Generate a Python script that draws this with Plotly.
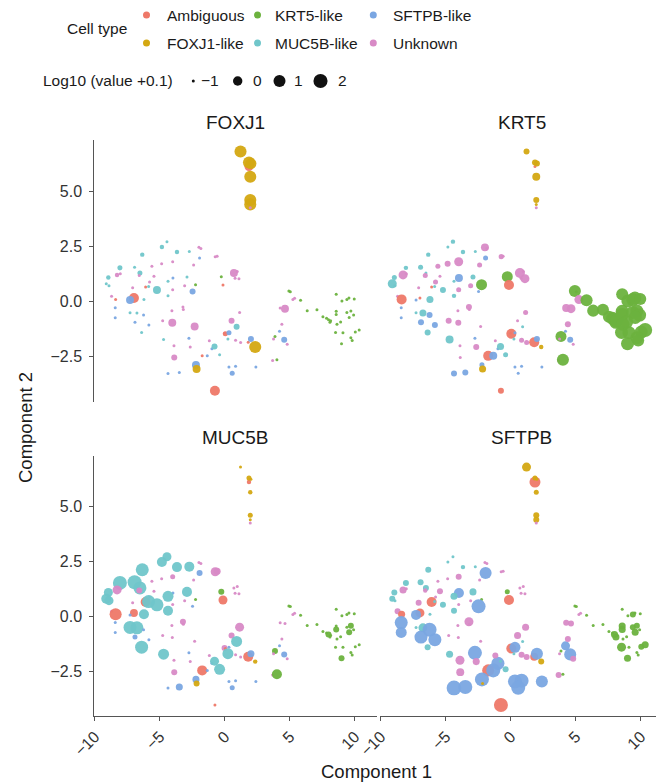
import numpy as np
import plotly.graph_objects as go

# ---------------- data ----------------
cell_type_names = ["Ambiguous", "FOXJ1-like", "KRT5-like", "MUC5B-like", "SFTPB-like", "Unknown"]
type_codes = {"A": "Ambiguous", "F": "FOXJ1-like", "K": "KRT5-like",
              "M": "MUC5B-like", "S": "SFTPB-like", "U": "Unknown"}
genes = ["FOXJ1", "KRT5", "MUC5B", "SFTPB"]

comp1 = [
    1.2, 1.85, 1.85, 2.0, 1.95, 1.95, 1.95, 1.95,
    -4.46, -4.85, -3.69, -2.74, -2.0, -1.85, -1.95, -0.75, -0.6,
    -6.36, -8.08, -6.95, -5.62, -4.87, -4.02, -2.41, -8.3, -8.05,
    -6.54, -6.59, -5.46, -4.0, -2.92, -8.97, -9.13, -8.92,
    -0.28, -0.15, -2.26, 0.69, 1.08, 0.95, 0.78, -5.8,
    -6.1, -5.87, -5.23, -4.38, -7.1, -4.02, -3.1, -2.49,
    -4.38, -7.0, -7.3, -8.72, -8.41, -6.23, -3.23, -3.2, -4.08,
    -8.44, -7.3, -6.77, -6.26, -8.44, -6.92, -6.41, -5.85,
    -4.79, -4.05, -2.33, -4.72, -2.77, -3.92, -2.67, -3.9,
    -1.0, -0.8, -1.2, -1.75, -1.36, -0.41, -4.38, -3.51,
    -2.23, -2.18, -0.77, 0.31, 0.82, 0.56, 2.38,
    0.51, 1.13, 0.9, -0.03, 0.03, 0.31, 0.23, 0.82, 1.21,
    1.79, 2.0, 2.33, 3.67, 4.0, 3.85, 3.74, 4.2, 4.56,
    4.79, 4.38, 4.62, 4.25, 4.92, 5.03, 5.23, 5.36,
    5.82, 6.33, 7.08, 7.54, 7.82, 7.97, 8.08, 8.13, 8.56, 9.0, 9.38, 9.54, 9.95, 8.56,
    8.56, 9.38, 9.69, 9.9, 9.56, 8.9, 8.62, 8.51, 9.08, 10.03, 10.33, 9.69, 9.79, 8.97,
]
comp2 = [
    6.8, 6.12, 6.3, 6.25, 5.65, 4.6, 4.4, 4.25,
    2.71, 2.47, 2.24, 2.26, 2.45, 2.4, 1.97, 2.03, 2.05,
    2.12, 1.52, 1.55, 1.59, 1.71, 1.80, 1.65, 1.2, 1.25,
    1.29, 1.17, 1.14, 1.06, 1.11, 1.08, 0.8, 0.71,
    1.12, 0.74, 0.76, 1.29, 1.03, 1.35, 1.05, 0.88,
    0.65, 0.67, 0.52, 0.91, 0.62, 0.53, 0.71, 0.45,
    0.25, 0.15, 0.06, 0.23, 0.09, 0.09, -0.25, -0.37, -0.42,
    -0.29, -0.51, -0.53, -0.62, -0.74, -0.95, -1.41, -1.07,
    -0.88, -0.97, -1.14, -1.73, -1.67, -2.01, -2.07, -2.55,
    -2.15, -2.05, -1.79, -2.47, -2.47, -2.42, -3.27, -3.23,
    -2.88, -3.07, -4.05, -2.98, -2.94, -3.26, -2.98,
    -0.88, -0.5, -1.15, -1.45, -1.47, -1.42, -1.71, -1.76, -1.86,
    -1.85, -1.71, -2.07, -2.68, -2.65, -1.59, -1.71, -1.35, -1.74,
    -1.94, -1.04, -0.33, -0.3, 0.47, 0.44, 0.08, 0.14,
    0.05, -0.42, -0.38, -0.7, -0.77, -0.83, -0.95, -0.88, 0.32, 0.02, 0.08, 0.15, 0.11, -0.45,
    -0.6, -0.5, -0.44, -0.62, -0.73, -0.94, -1.04, -1.41, -1.42, -1.39, -1.3, -1.65, -1.77, -1.92,
]
cell_type = list(
    "FAFFFFFU"
    "MMMMUUSUU"
    "MMMUUUUUU"
    "MUUSMMMM"
    "KAKUUUUU"
    "AMMMUUUS"
    "MASUAMUUU"
    "SMMSSSMS"
    "UUUMSUUU"
    "SMUASMSS"
    "SFASSSS"
    "UUMUASMUU"
    "ASFUKKUSS"
    "UUUUKKUU"
    "KKKKKKKKKKKKKK"
    "KKKKKKKKKKKKKK"
)

# log10(value + 0.1) per cell, one list per gene
foxj1 = [
    1.0, -0.12, 1.0, 0.56, 1.0, 1.0, 1.0, -1,
    -1, -0.95, -0.95, -1, -1, -1, -1, -1, -1,
    -0.95, -0.9, -1, -1, -1, -1, -1, -0.95, -1,
    -0.9, -1, -1, -1, -1, -0.95, -1, -1,
    -1, -1, -1, -0.4, -1, -1, -1, -1,
    -1, -1, -0.4, -1, -1, -1, -1, -0.78,
    -1, 0.2, -0.4, -1, -1, -1, -1, -1, -1,
    -1, -1, -1, -1, -1, -1, -1, -1,
    -1, -0.4, -0.4, -1, -1, -1, -1, -0.78,
    -1, -0.78, -1, -1, -1, -1, -1, -1,
    -0.4, -0.4, 0.2, -1, -1, -0.9, -1,
    -0.78, -1, -0.78, -1, -0.9, -0.9, -1, -1, -1,
    -1, -0.78, 1.0, -1, -1, -1, -1, -1, -0.78,
    -1, -1, -0.4, -1, -1, -1, -1, -1,
    -1, -1, -1, -1, -1, -1, -1, -1, -1, -1, -1, -1, -1, -1,
    -1, -1, -1, -1, -1, -1, -1, -1, -1, -1, -1, -1, -1, -1,
]
krt5 = [
    -0.78, -1, -0.78, -0.78, -0.4, -0.78, -1, -1,
    -0.95, -1, -0.95, -1, -0.4, -1, -0.9, -0.9, -1,
    -0.95, -0.95, -0.9, -0.9, -0.78, -0.12, -0.9, -0.12, -1,
    -1, -0.9, -1, -0.4, -0.9, -0.9, -0.12, -1,
    0.56, 0.2, 0.56, 0.2, -0.12, -1, -1, -0.9,
    -1, -1, -0.78, -1, -1, -0.9, -0.9, -1,
    -0.95, -1, -1, -1, 0.2, -0.6, -0.78, -1, -1,
    -1, -1, -0.6, -0.78, -1, -0.78, -0.78, -0.78,
    -0.78, -0.78, -1, -0.4, -1, -1, -0.78, -1,
    -1, -0.6, -1, 0.2, -0.4, -0.9, -0.78, -0.78,
    -0.9, -0.6, -0.78, -1, -1, -1, -1,
    -1, -0.9, -1, -1, 0.2, -1, -1, -0.9, -0.9,
    0.2, -0.78, -0.95, -1, 1.0, 0.56, -1, -1, -0.78,
    -1, -0.78, -0.12, -0.4, 1.0, -1, -0.12, -1,
    1.0, 1.0, 1.0, 1.0, 1.45, 1.45, 1.45, 1.45, 1.0, 1.45, 1.45, 1.45, 1.0, 1.45,
    1.45, 1.45, 1.45, 1.45, 1.45, 1.45, 1.45, 1.45, 1.45, 1.45, 1.95, 1.45, 1.0, 1.45,
]
muc5b = [
    -1, -0.95, -0.9, -1, -0.95, -0.9, -1, -1,
    -0.12, 0.2, 0.2, 0.2, -1, -1, -0.78, -0.12, -0.6,
    1.45, 1.95, 1.95, -1, -1, -0.9, -1, -0.12, -1,
    1.45, -0.78, -1, -1, 0.2, -0.12, 0.2, -0.12,
    -0.78, -0.12, -1, -1, -1, -1, -1, -1,
    0.2, 1.45, 1.45, 0.56, -1, -1, -1, -1,
    0.2, -0.4, -1, -1, 1.0, 0.2, -0.78, -1, -1,
    -1, 1.45, 1.45, -1, -1, -0.9, 1.45, -1,
    -1, -1, -1, 0.56, -1, -1, -1, -0.78,
    -1, -0.12, -1, 0.2, -1, 0.56, -1, -0.6,
    -0.6, -0.78, -1, -1, -1, -0.9, -1,
    -0.78, -0.12, 0.56, -0.78, -1, -1, 0.56, -1, -1,
    0.2, -0.6, -0.95, -1, 0.2, -0.78, -1, -1, -0.78,
    -1, -1, -1, -1, -1, -1, -1, -1,
    -1, -1, -1, -1, -1, -0.78, -1, -1, -1, -1, -1, -1, -1, -1,
    -0.78, -1, -0.78, -1, -0.78, -1, -1, -1, -1, -1, -1, -1, -1, -0.78,
]
sftpb = [
    -0.12, 0.56, -0.9, -1, -0.9, -0.78, -0.78, -1,
    -1, -1, -0.95, -1, -1, -1, 1.0, -1, -1,
    -0.78, -0.78, -0.78, -1, -1, -0.78, -1, -0.6, -1,
    -0.78, -0.95, -0.78, 0.2, -0.6, -0.78, -0.78, -1,
    -0.9, 0.2, -1, -1, -1, -1, -1, -1,
    0.2, -1, -0.78, -0.6, -0.78, -1, -1, 1.95,
    -0.78, -0.12, 0.2, -0.78, -0.6, -1, -0.12, -1, -1,
    1.45, -1, -0.12, 1.95, 0.56, 1.45, -0.78, 1.45,
    -1, -1, -1, -0.6, 1.95, -0.12, -0.6, -0.4,
    1.45, -1, -0.78, 1.0, 1.95, -0.78, 2.4, 1.95,
    1.95, -1, 1.95, 1.95, 1.95, 1.95, 1.0,
    -0.6, -0.6, -1, -1, 0.2, 0.56, -1, -0.78, -0.78,
    -0.4, 1.0, -0.78, -0.78, -1, -1, -1, -0.12, 1.0,
    -0.78, -0.78, -0.78, -0.78, -1, -1, -1, -1,
    -1, -1, -1, -1, -1, -0.6, -0.6, -1, -1, -1, -0.78, -1, -1, -0.6,
    -0.6, -0.78, -0.78, -1, -0.6, -1, -1, -0.12, -1, -0.78, -0.6, -1, -1, -0.6,
]
expression = {"FOXJ1": foxj1, "KRT5": krt5, "MUC5B": muc5b, "SFTPB": sftpb}

size_legend_values = [-1, 0, 1, 2]
size_legend_labels = ["\u22121", "0", "1", "2"]
x_tick_vals = [-10, -5, 0, 5, 10]
x_tick_text = ["\u221210", "\u22125", "0", "5", "10"]
y_tick_vals = [-2.5, 0.0, 2.5, 5.0]
y_tick_text = ["\u22122.5", "0.0", "2.5", "5.0"]

# ---------------- style ----------------
colors = {
    "Ambiguous": "#EE7868",
    "FOXJ1-like": "#D4A812",
    "KRT5-like": "#6CB23E",
    "MUC5B-like": "#70C6CA",
    "SFTPB-like": "#7AA6E2",
    "Unknown": "#D88AC6",
}
FONT = "Liberation Sans, Arial, Helvetica, sans-serif"
TXT = "#1a1a1a"
AX = "#555555"


def marker_diam(v):
    return 3.0 + 6.4 * np.sqrt(np.maximum(np.asarray(v, dtype=float) + 1.0, 0.0))


# the page body adds an 8px margin; size the figure so it fills the 664x783 window
OFF = 8
W, H = 664 - OFF, 783 - OFF
ML, MR, MT, MB = 94 - OFF, 1, 140 - OFF, 67
PW, PH = W - ML - MR, H - MT - MB


def PX(px):  # window pixel -> paper x
    return (px - OFF - ML) / PW


def PY(py):  # window pixel -> paper y
    return (H - MB - (py - OFF)) / PH


left_dom = [PX(94.3), PX(377.0)]
right_dom = [PX(380.3), 1.0]
top_dom = [PY(401.7), 1.0]
bot_dom = [0.0, PY(455.7)]
xr = [-10.05, 11.7]
yr = [-4.55, 7.32]

fig = go.Figure()
panel_axes = [("x", "y"), ("x2", "y2"), ("x3", "y3"), ("x4", "y4")]
pt_colors = [colors[type_codes[c]] for c in cell_type]
for gene, (xa, ya) in zip(genes, panel_axes):
    fig.add_trace(go.Scatter(
        x=comp1, y=comp2, mode="markers", xaxis=xa, yaxis=ya,
        marker=dict(size=marker_diam(expression[gene]), color=pt_colors,
                    opacity=0.95, line=dict(width=0)),
        showlegend=False, hoverinfo="skip"))

tickfont = dict(family=FONT, size=16, color="#333333")
hidden_x = dict(range=xr, showline=False, showticklabels=False, ticks="",
                showgrid=False, zeroline=False)
shown_x = dict(range=xr, showline=True, linecolor=AX, linewidth=1, ticks="outside",
               ticklen=4, tickcolor=AX, tickwidth=1, tickvals=x_tick_vals,
               ticktext=x_tick_text, tickangle=-45, tickfont=tickfont,
               showgrid=False, zeroline=False)
hidden_y = dict(range=yr, showline=False, showticklabels=False, ticks="",
                showgrid=False, zeroline=False)
shown_y = dict(range=yr, showline=True, linecolor=AX, linewidth=1, ticks="outside",
               ticklen=4, tickcolor=AX, tickwidth=1, tickvals=y_tick_vals,
               ticktext=y_tick_text, tickfont=tickfont, ticklabelstandoff=4,
               showgrid=False, zeroline=False)

fig.update_layout(
    width=W, height=H, margin=dict(l=ML, r=MR, t=MT, b=MB),
    paper_bgcolor="white", plot_bgcolor="white", showlegend=False,
    font=dict(family=FONT, color=TXT),
    xaxis=dict(domain=left_dom, anchor="y", **hidden_x),
    xaxis2=dict(domain=right_dom, anchor="y2", **hidden_x),
    xaxis3=dict(domain=left_dom, anchor="y3", **shown_x),
    xaxis4=dict(domain=right_dom, anchor="y4", **shown_x),
    yaxis=dict(domain=top_dom, anchor="x", **shown_y),
    yaxis2=dict(domain=top_dom, anchor="x2", **hidden_y),
    yaxis3=dict(domain=bot_dom, anchor="x3", **shown_y),
    yaxis4=dict(domain=bot_dom, anchor="x4", **hidden_y),
)

ann = []
shapes = []
# strip titles
strip_pos = [(235.6, 122), (521.6, 122), (235.6, 437), (521.6, 437)]
for gene, (px, py) in zip(genes, strip_pos):
    ann.append(dict(text=gene, x=PX(px), y=PY(py), xref="paper", yref="paper",
                    showarrow=False, xanchor="center", yanchor="middle",
                    font=dict(family=FONT, size=19, color=TXT)))
# axis titles
ann.append(dict(text="Component 1", x=PX(376), y=PY(771), xref="paper", yref="paper",
                showarrow=False, xanchor="center", yanchor="middle",
                font=dict(family=FONT, size=18.5, color=TXT)))
ann.append(dict(text="Component 2", x=PX(25), y=PY(428), xref="paper", yref="paper",
                showarrow=False, xanchor="center", yanchor="middle", textangle=-90,
                font=dict(family=FONT, size=18.5, color=TXT)))

# colour legend
ann.append(dict(text="Cell type", x=PX(65), y=PY(28), xref="paper", yref="paper",
                showarrow=False, xanchor="left", yanchor="middle",
                font=dict(family=FONT, size=15.5, color=TXT)))
legend_slots = [(146.5, 15, 165), (257.5, 15, 273), (373.3, 15, 391),
                (146.5, 43, 165), (257.5, 43, 273), (373.3, 43, 391)]
legend_order = ["Ambiguous", "KRT5-like", "SFTPB-like", "FOXJ1-like", "MUC5B-like", "Unknown"]


def dot(px, py, d, color):
    return dict(type="circle", xref="paper", yref="paper", xsizemode="pixel",
                ysizemode="pixel", xanchor=PX(px), yanchor=PY(py),
                x0=-d / 2, x1=d / 2, y0=-d / 2, y1=d / 2,
                fillcolor=color, line=dict(width=0), layer="above")


for name, (mx, my, tx) in zip(legend_order, legend_slots):
    shapes.append(dot(mx, my, 7, colors[name]))
    ann.append(dict(text=name, x=PX(tx), y=PY(my), xref="paper", yref="paper",
                    showarrow=False, xanchor="left", yanchor="middle",
                    font=dict(family=FONT, size=15.5, color=TXT)))

# size legend
ann.append(dict(text="Log10 (value +0.1)", x=PX(40.5), y=PY(81), xref="paper", yref="paper",
                showarrow=False, xanchor="left", yanchor="middle",
                font=dict(family=FONT, size=15.5, color=TXT)))
size_slots = [(193.3, 198.5), (237.7, 250.5), (279.5, 292), (320.5, 336)]
for v, lab, (mx, tx) in zip(size_legend_values, size_legend_labels, size_slots):
    shapes.append(dot(mx, 81, float(marker_diam(v)), "#111111"))
    ann.append(dict(text=lab, x=PX(tx), y=PY(81), xref="paper", yref="paper",
                    showarrow=False, xanchor="left", yanchor="middle",
                    font=dict(family=FONT, size=15.5, color=TXT)))

fig.update_layout(annotations=ann, shapes=shapes)
fig.write_html("out.html")
